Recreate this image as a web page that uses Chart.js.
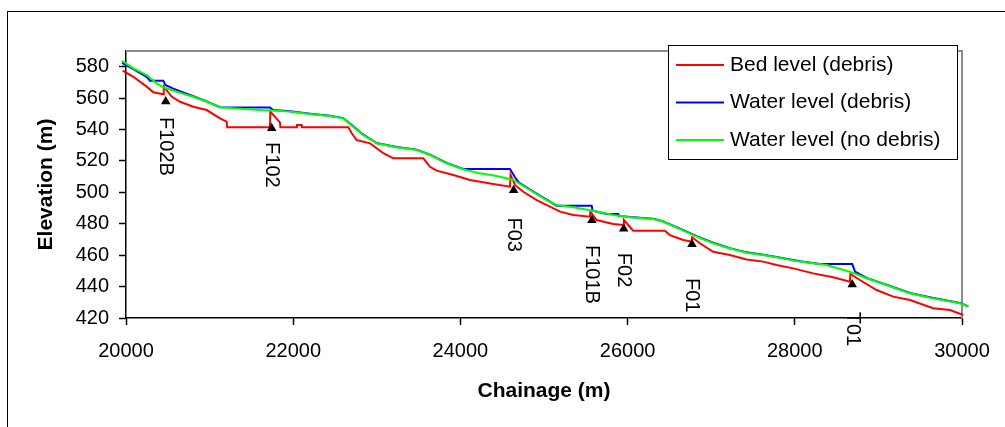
<!DOCTYPE html>
<html>
<head>
<meta charset="utf-8">
<script src="https://cdn.jsdelivr.net/npm/chart.js@4.4.1/dist/chart.umd.min.js"></script>
<style>
  html,body{margin:0;padding:0;background:#fff}
  #wrap{width:1005px;height:427px;position:relative}
</style>
</head>
<body>
<div id="wrap"><canvas id="c"></canvas></div>
<script>
const FONT = '"Liberation Sans", Arial, Helvetica, sans-serif';

/* ---- data ---- */
const bedX = [19960,20088,20247,20327,20446,20452,20546,20646,20805,20965,21124,21204,21210,21722,21726,21802,21842,21846,
  22040,22045,22100,22105,22660,22700,22760,22920,23078,23197,23556,23636,23716,23915,24114,24393,24593,24600,24653,24752,
  24912,25071,25191,25350,25549,25555,25629,25828,25948,25955,26067,26446,26506,26666,26765,26772,26865,27024,27224,27423,
  27622,27782,27981,28220,28459,28659,28665,28779,28978,29177,29377,29655,29855,30015,30075];
const bedY = [577.5,573.6,567.3,563.7,562.4,567.3,561.0,557.7,554.5,552.4,547.1,545.0,541.4,541.4,551.4,547.0,544.4,541.4,
  541.4,542.9,542.9,541.4,541.4,537.6,533.3,531.2,524.9,521.7,521.7,516.3,513.8,511.0,507.9,505.3,503.6,511.0,504.7,500.4,
  495.1,490.9,487.7,485.6,484.5,487.7,482.4,479.8,479.2,482.4,475.6,475.6,472.8,469.7,468.6,471.4,467.6,462.2,460.1,457.3,
  455.9,453.7,451.6,448.4,445.9,443.1,448.0,444.2,437.8,433.6,431.5,426.2,425.1,421.9,421.3];

const wlDebrisX = [19952,20088,20247,20287,20446,20470,20566,20805,20965,21124,21722,21760,21961,22200,22440,22599,22719,
  22839,22998,23237,23476,23636,23835,24034,24075,24593,24653,24700,24832,25031,25151,25570,25580,25749,25888,25900,26027,
  26307,26426,26666,26825,27024,27224,27423,27622,27782,28061,28300,28687,28720,28858,29097,29377,29655,29975,30075];
const wlDebrisY = [582.5,578.5,573.5,571.1,571.1,568.4,566.0,561.2,557.9,554.2,554.1,552.4,551.6,550.1,548.8,547.3,542.0,
  536.7,531.4,528.9,527.2,524.0,518.7,514.9,514.9,514.9,509.6,506.2,501.8,495.4,491.5,491.5,488.3,486.2,486.2,485.0,484.3,
  483.2,481.5,475.9,472.1,467.9,464.5,461.8,460.3,458.9,456.1,454.4,454.4,449.5,445.5,441.2,435.9,432.7,429.6,427.4];

const wlNoDebrisX = [19952,20088,20247,20367,20446,20606,20805,20965,21124,21283,21603,21802,21961,22200,22440,22599,22719,
  22839,22998,23237,23476,23636,23835,24034,24233,24433,24632,24832,25031,25151,25350,25589,25828,26027,26307,26426,26666,
  26825,27024,27224,27423,27622,27782,28061,28380,28659,28858,29097,29377,29655,29975,30075];
const wlNoDebrisY = [583.8,579.0,574.7,569.4,566.9,564.1,560.9,557.7,554.2,553.5,552.4,552.0,551.4,549.9,548.6,547.1,541.8,
  536.5,531.2,528.7,527.0,523.8,518.5,514.7,512.1,510.4,507.9,501.5,495.1,491.9,490.5,488.3,485.6,484.1,483.0,481.3,475.6,
  471.8,467.6,464.3,461.6,460.1,458.7,455.9,453.7,449.5,445.3,441.0,435.7,432.5,429.4,427.2];

// structures: triangle position and where the rotated name starts (elevation)
const structNames = ['F102B','F102','F03','F101B','F02','F01','T01'];
const structX     = [20475, 21743, 24637, 25573, 25953, 26770, 28687];
const structY     = [557.8, 540.8, 501.3, 482.3, 476.8, 466.9, 441.3];
const structLabelY= [548.0, 532.0, 484.0, 466.5, 461.5, 445.5, 424.0];

const xTicks = [20000,22000,24000,26000,28000,30000];
const yTicks = [420,440,460,480,500,520,540,560,580];

const pts = (xs,ys)=>xs.map((x,i)=>({x, y:ys[i]}));

/* ---- plugins ---- */
const framePlugin = {
  id:'frame',
  beforeDraw(chart){
    const ctx = chart.ctx;
    ctx.save();
    ctx.fillStyle = '#fff';
    ctx.fillRect(0,0,chart.width,chart.height);
    ctx.strokeStyle = '#000'; ctx.lineWidth = 1;
    ctx.strokeRect(7.5, 11.5, chart.width+20, chart.height+20);
    ctx.restore();
  },
  beforeDatasetsDraw(chart){
    // grey plot-area border on top and right (Excel style)
    const {ctx, chartArea:a} = chart;
    ctx.save();
    ctx.strokeStyle = '#8c8c8c'; ctx.lineWidth = 2;
    ctx.beginPath();
    ctx.moveTo(a.left, a.top); ctx.lineTo(a.right, a.top); ctx.lineTo(a.right, a.bottom);
    ctx.stroke();
    ctx.restore();
  }
};

const structLabels = {
  id:'structLabels',
  afterDatasetsDraw(chart){
    const {ctx, scales:{x,y}} = chart;
    ctx.save();
    ctx.font = '20px '+FONT; ctx.fillStyle = '#000';
    ctx.textAlign = 'left'; ctx.textBaseline = 'middle';
    structNames.forEach((n,i)=>{
      ctx.save();
      ctx.translate(x.getPixelForValue(structX[i]), y.getPixelForValue(structLabelY[i]));
      ctx.rotate(Math.PI/2);
      ctx.fillText(n, 0, 0);
      ctx.restore();
    });
    ctx.restore();
  }
};

const boxLegend = {
  id:'boxLegend',
  afterDraw(chart){
    const ctx = chart.ctx;
    const items = chart.data.datasets.filter(d=>d.showLine!==false);
    const L = 668.5, T = 45.5, W = 289, H = 114;
    ctx.save();
    ctx.fillStyle = '#fff'; ctx.fillRect(L,T,W,H);
    ctx.strokeStyle = '#000'; ctx.lineWidth = 1; ctx.strokeRect(L,T,W,H);
    ctx.font = '21px '+FONT; ctx.textBaseline = 'middle'; ctx.textAlign = 'left';
    items.forEach((d,i)=>{
      const yy = 65 + i*37.5;
      ctx.strokeStyle = d.borderColor; ctx.lineWidth = 2;
      ctx.beginPath(); ctx.moveTo(676, yy); ctx.lineTo(724, yy); ctx.stroke();
      ctx.fillStyle = '#000';
      ctx.fillText(d.label, 730, yy);
    });
    ctx.restore();
  }
};

const lineDs = (label, data, color, order)=>({
  label, data, borderColor:color, backgroundColor:color, borderWidth:2,
  pointRadius:0, tension:0, fill:false, clip:false, order
});

new Chart(document.getElementById('c'), {
  type:'line',
  data:{
    datasets:[
      lineDs('Bed level (debris)', pts(bedX,bedY), '#ff0000', 3),
      lineDs('Water level (debris)', pts(wlDebrisX,wlDebrisY), '#0000ff', 2),
      lineDs('Water level (no debris)', pts(wlNoDebrisX,wlNoDebrisY), '#00ff00', 1),
      {label:'Structures', data:pts(structX,structY), showLine:false, pointStyle:'triangle',
       pointRadius:5.5, backgroundColor:'#000', borderColor:'#000', borderWidth:0, order:0}
    ]
  },
  options:{
    responsive:true, maintainAspectRatio:false, animation:false,
    layout:{padding:{top:51, right:43, left:0, bottom:0}},
    plugins:{legend:{display:false}, tooltip:{enabled:false}},
    scales:{
      x:{
        type:'linear', min:20000, max:30000,
        afterBuildTicks:s=>{ s.ticks = xTicks.map(v=>({value:v})); },
        afterFit:s=>{ s.height = 109; },
        ticks:{color:'#000', font:{family:FONT, size:20}, padding:14, autoSkip:false, maxRotation:0,
               callback:v=>String(v)},
        grid:{drawOnChartArea:false, drawTicks:true, tickLength:7, tickColor:'#000', tickWidth:1.5},
        border:{display:true, color:'#000', width:1.5},
        title:{display:true, text:'Chainage (m)', color:'#000',
               font:{family:FONT, size:21, weight:'bold'}, padding:{top:0, bottom:23}}
      },
      y:{
        type:'linear', min:420, max:590,
        afterBuildTicks:s=>{ s.ticks = yTicks.map(v=>({value:v})); },
        afterFit:s=>{ s.width = 126; },
        ticks:{color:'#000', font:{family:FONT, size:20}, padding:10},
        grid:{drawOnChartArea:false, drawTicks:true, tickLength:7, tickColor:'#000', tickWidth:1.5},
        border:{display:true, color:'#000', width:1.5},
        title:{display:true, text:'Elevation (m)', color:'#000',
               font:{family:FONT, size:21, weight:'bold'}, padding:{top:34, bottom:0}}
      }
    }
  },
  plugins:[framePlugin, structLabels, boxLegend]
});
</script>
</body>
</html>
